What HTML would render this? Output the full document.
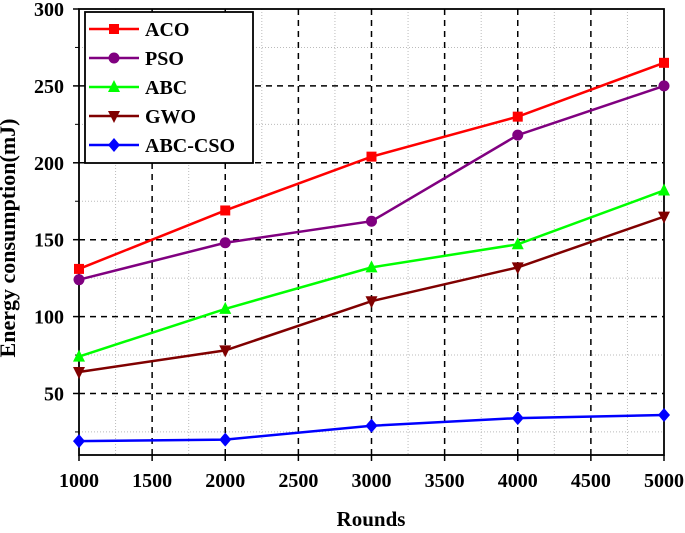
<!DOCTYPE html>
<html><head><meta charset="utf-8"><style>
body{margin:0;background:#fff;width:685px;height:528px;overflow:hidden}
svg{font-family:"Liberation Serif",serif;font-weight:bold}
</style></head><body>
<svg id="c" width="685" height="528"></svg>
<script>
const categories=[1000,2000,3000,4000,5000];
const aco=[131,169,204,230,265];
const pso=[124,148,162,218,250];
const abc=[74,105,132,147,182];
const gwo=[64,78,110,132,165];
const abccso=[19,20,29,34,36];
const seriesNames=["ACO","PSO","ABC","GWO","ABC-CSO"];
const yTicks=[50,100,150,200,250,300];
const xTicks=[1000,1500,2000,2500,3000,3500,4000,4500,5000];
const NS="http://www.w3.org/2000/svg";
const svg=document.getElementById('c');
const L=79,R=664,T=9,B=455;
const X=v=>L+(v-1000)/4000*(R-L);
const Y=v=>B-(v-10)/290*(B-T);
function el(t,a,p){const e=document.createElementNS(NS,t);for(const k in a)e.setAttribute(k,a[k]);(p||svg).appendChild(e);return e;}
for(let v=1250;v<5000;v+=500){const e=el('line',{x1:X(v),x2:X(v),y1:T,y2:B,stroke:'#bbb','stroke-dasharray':'1,2'});

}
for(let v=25;v<300;v+=50){const e=el('line',{x1:L,x2:R,y1:Y(v),y2:Y(v),stroke:'#bbb','stroke-dasharray':'1,2'});

}
xTicks.forEach(v=>{if(v>1000&&v<5000){const e=el('line',{x1:X(v),x2:X(v),y1:T,y2:B,stroke:'#000','stroke-dasharray':'6,5','stroke-width':1.5});

}});
yTicks.forEach(v=>{if(v<300){const e=el('line',{x1:L,x2:R,y1:Y(v),y2:Y(v),stroke:'#000','stroke-dasharray':'6,5','stroke-width':1.5});

}});
const fr=el('rect',{x:L,y:T,width:R-L,height:B-T,fill:'none',stroke:'#000','stroke-width':1.8});


xTicks.forEach(v=>{el('line',{x1:X(v),x2:X(v),y1:B,y2:B+6,stroke:'#000','stroke-width':1.5});
const t=el('text',{x:X(v),y:B+32,'text-anchor':'middle','font-size':20});t.textContent=v;

});
yTicks.forEach(v=>{el('line',{x1:L-6,x2:L,y1:Y(v),y2:Y(v),stroke:'#000','stroke-width':1.5});
const t=el('text',{x:L-15,y:Y(v)+7,'text-anchor':'end','font-size':20});t.textContent=v;

});
for(let v=25;v<300;v+=50)el('line',{x1:L-4,x2:L,y1:Y(v),y2:Y(v),stroke:'#000'});
const xt=el('text',{x:371,y:526,'text-anchor':'middle','font-size':21});xt.textContent='Rounds';


const yt=el('text',{x:0,y:0,'text-anchor':'middle','font-size':22,transform:'translate(15,238) rotate(-90)'});yt.textContent='Energy consumption(mJ)';


function marker(type,x,y,c,p){
 if(type==0)return el('rect',{x:x-5,y:y-5,width:10,height:10,fill:c},p);
 if(type==1)return el('circle',{cx:x,cy:y,r:5.5,fill:c},p);
 if(type==2)return el('polygon',{points:`${x},${y-7} ${x+6},${y+5} ${x-6},${y+5}`,fill:c},p);
 if(type==3)return el('polygon',{points:`${x},${y+7} ${x+6},${y-5} ${x-6},${y-5}`,fill:c},p);
 return el('polygon',{points:`${x},${y-7} ${x+6},${y} ${x},${y+7} ${x-6},${y}`,fill:c},p);
}
const colors=['#ff0000','#800080','#00ff00','#800000','#0000ff'];
[aco,pso,abc,gwo,abccso].forEach((s,i)=>{
 const g=el('g',{});
 
 
 el('polyline',{points:s.map((v,j)=>X(categories[j])+','+Y(v)).join(' '),fill:'none',stroke:colors[i],'stroke-width':2.5},g);
 s.forEach((v,j)=>{const m=marker(i,X(categories[j]),Y(v),colors[i],g);
 
 });
});
const lg=el('g',{});


el('rect',{x:85,y:12,width:168,height:151,fill:'#fff',stroke:'#000','stroke-width':1.8},lg);
seriesNames.forEach((n,i)=>{
 const y=29+i*29;
 const g=el('g',{},lg);
 
 
 el('line',{x1:89,x2:139,y1:y,y2:y,stroke:colors[i],'stroke-width':2.5},g);
 marker(i,114,y,colors[i],g);
 const t=el('text',{x:145,y:y+7,'font-size':20},g);t.textContent=n;
});
</script>
</body></html>
